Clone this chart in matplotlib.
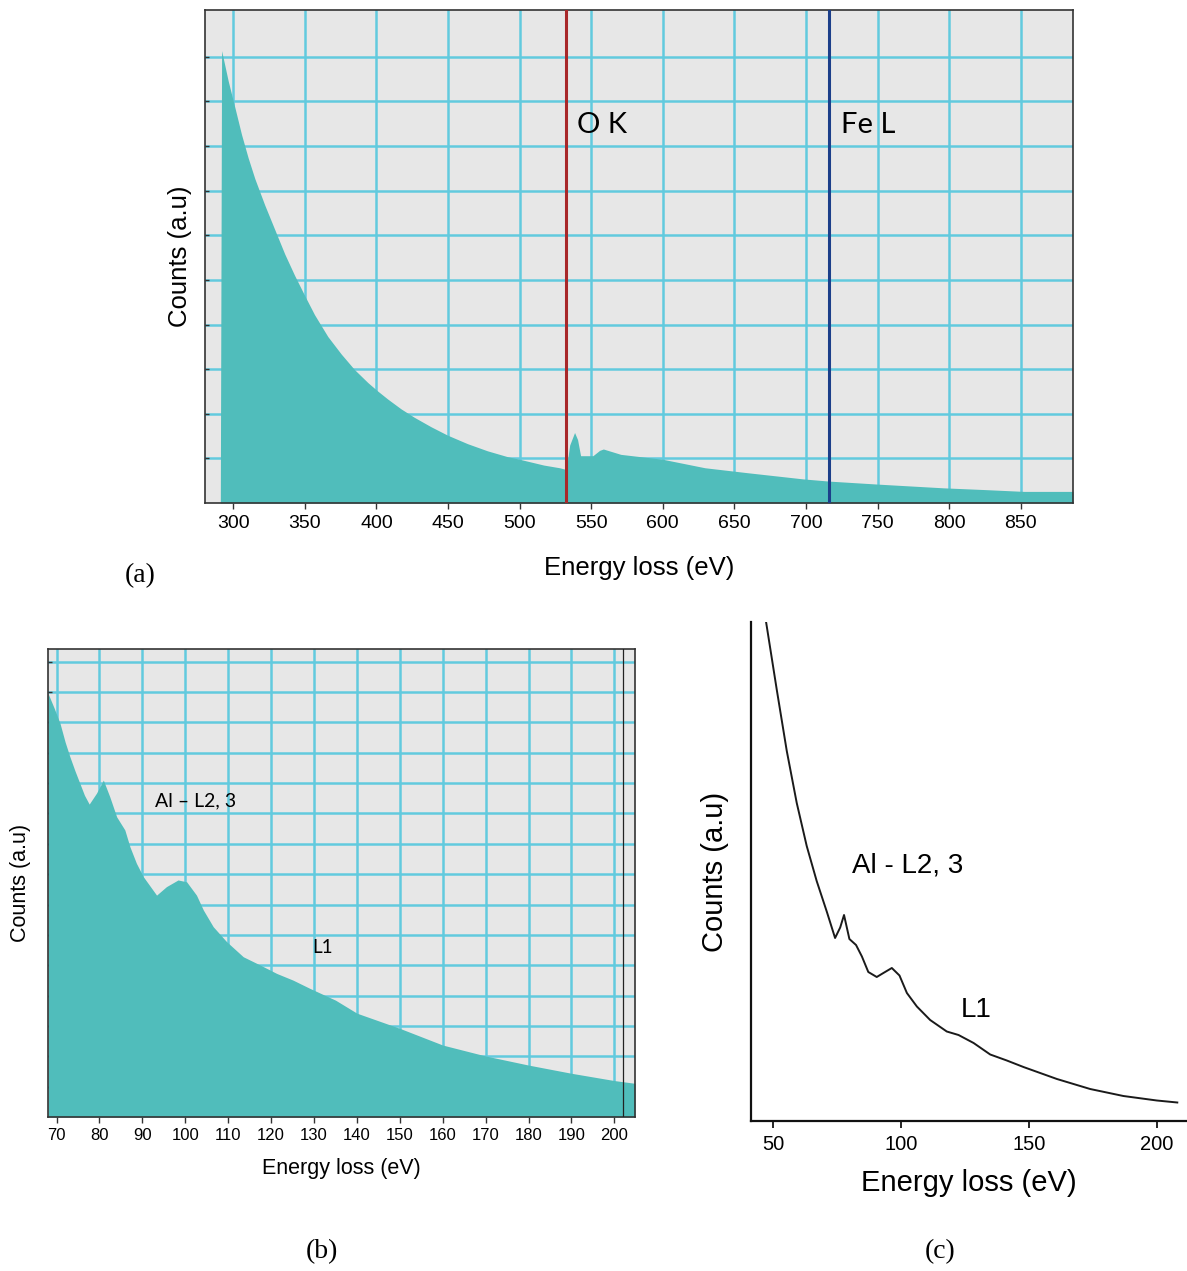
import matplotlib
matplotlib.use("Agg")
import matplotlib.pyplot as plt

W, H = 1187, 1271

# (a) O K / Fe L spectrum
a_energy = [291.0, 291.9, 296.5, 301.2, 305.8, 310.4, 315.1, 322.0, 329.0, 336.0,
            342.9, 349.9, 356.8, 366.1, 375.4, 384.7, 394.0, 400.5, 407.9, 417.2,
            426.5, 438.1, 449.7, 463.6, 477.5, 491.4, 500.0, 516.9, 527.9, 531.5,
            533, 535, 538.4, 540.5, 542.6, 551.2, 555.9, 558.5, 570.7, 600,
            629.4, 658.8, 698, 716.4, 751.9, 795.9, 825.3, 852.2, 886.5]
a_counts = [0.0, 10.14, 9.46, 8.86, 8.26, 7.74, 7.27, 6.68, 6.13, 5.58,
            5.10, 4.65, 4.22, 3.73, 3.34, 2.99, 2.70, 2.52, 2.33, 2.11,
            1.92, 1.71, 1.52, 1.33, 1.17, 1.04, 0.98, 0.85, 0.79, 0.76,
            0.85, 1.30, 1.58, 1.42, 1.06, 1.06, 1.18, 1.21, 1.09, 0.98,
            0.79, 0.68, 0.54, 0.49, 0.42, 0.34, 0.30, 0.26, 0.26]
a_xticks = [300, 350, 400, 450, 500, 550, 600, 650, 700, 750, 800, 850]
a_edges = [532.2, 716.4]
a_edge_names = ["O K", "Fe L"]

# (b) Al L2,3 spectrum, filled
b_energy = [68.0, 69.5, 70.8, 72.0, 73.1, 74.3, 75.4, 76.5, 77.6, 79.3, 80.9,
            82.4, 84.0, 85.9, 87.1, 88.6, 90.2, 93.3, 95.6, 98.3, 100.3,
            102.6, 104.2, 106.5, 109.6, 113.5, 117.4, 121.3, 125.1, 129.0,
            135.0, 140, 150, 160, 170, 180, 190, 200, 204.8]
b_counts = [13.96, 13.45, 12.97, 12.35, 11.87, 11.40, 11.0, 10.60, 10.31, 10.67,
            11.10, 10.55, 9.89, 9.46, 8.90, 8.36, 7.92, 7.31, 7.59, 7.81, 7.75,
            7.31, 6.82, 6.27, 5.78, 5.28, 5.01, 4.73, 4.51, 4.24,
            3.85, 3.42, 2.92, 2.37, 2.01, 1.71, 1.44, 1.20, 1.11]
b_xticks = [70, 80, 90, 100, 110, 120, 130, 140, 150, 160, 170, 180, 190, 200]

# (c) Al L2,3 spectrum, line
c_energy = [47.2, 51.4, 55.3, 59.2, 63.1, 67.0, 71.0, 74.2, 76.2, 77.7, 79.8,
            82.4, 84.7, 87.2, 90.5, 93.1, 96.4, 99.4, 102.3, 106.2, 111.4,
            117.9, 122.5, 128.4, 134.9, 141.4, 147.9, 161.0, 174.0, 187.0,
            200.1, 208.1]
c_counts = [9.98, 8.62, 7.40, 6.36, 5.50, 4.80, 4.18, 3.66, 3.87, 4.12, 3.64,
            3.52, 3.29, 2.98, 2.88, 2.96, 3.06, 2.91, 2.56, 2.29, 2.02,
            1.79, 1.72, 1.56, 1.33, 1.21, 1.08, 0.84, 0.64, 0.50,
            0.41, 0.37]
c_xticks = [50, 100, 150, 200]

FILL = "#50bdbb"
GRID = "#62cade"
BG = "#e7e7e7"
SANS = "Liberation Sans"
LABEL_FONT = "Lato"
SERIF = "Liberation Serif"


def px_axes(fig, left, top, right, bottom):
    return fig.add_axes([left / W, 1 - bottom / H, (right - left) / W, (bottom - top) / H])


def grid_panel(ax, x, y, xticks, ylines, xlim, ylim, tick_size, pad):
    ax.set_facecolor(BG)
    ax.fill_between(x, y, 0, color=FILL, lw=0, zorder=2)
    for xv in xticks:
        ax.axvline(xv, color=GRID, lw=1.8, zorder=1)
    for yv in ylines:
        ax.axhline(yv, color=GRID, lw=1.8, zorder=1)
    ax.set_xlim(*xlim)
    ax.set_ylim(*ylim)
    ax.set_xticks(xticks)
    ax.set_xticklabels([str(t) for t in xticks], fontsize=tick_size, family=SANS)
    ax.set_yticks(ylines)
    ax.set_yticklabels([])
    ax.tick_params(axis="x", direction="out", length=4, width=1, color="#333333", pad=pad)
    ax.tick_params(axis="y", direction="in", length=3, width=1, color="#333333")
    for s in ax.spines.values():
        s.set_color("#333333")
        s.set_linewidth(1.2)


fig = plt.figure(figsize=(W / 100, H / 100), dpi=100)

# panel (a)
ax_a = px_axes(fig, 205, 10, 1073, 503)
grid_panel(ax_a, a_energy, a_counts, a_xticks, list(range(1, 11)),
           (280.3, 886.5), (0, 11.05), 14, 5)
ax_a.axvline(a_edges[0], color="#a8282a", lw=2.2, zorder=3)
ax_a.axvline(a_edges[1], color="#1c3f8a", lw=2.2, zorder=3)
for xv, name in zip(a_edges, a_edge_names):
    ax_a.text(xv + 8, 8.48, name, fontsize=21, family=LABEL_FONT, va="center", ha="left")
ax_a.set_xlabel("Energy loss (eV)", fontsize=18.5, family=SANS, labelpad=17)
ax_a.set_ylabel("Counts (a.u)", fontsize=18.5, family=SANS, labelpad=6)
fig.text(140 / W, 1 - 576 / H, "(a)", fontsize=20, family=SERIF, ha="center", va="center")

# panel (b)
ax_b = px_axes(fig, 48, 649, 635, 1117)
grid_panel(ax_b, b_energy, b_counts, b_xticks, list(range(1, 16)),
           (68.0, 204.8), (0, 15.42), 12, 4)
ax_b.axvline(202.1, color="#222222", lw=0.9, zorder=3)
ax_b.text(93.0, 10.4, "Al \u2013 L2, 3", fontsize=14, family=LABEL_FONT, va="center", ha="left")
ax_b.text(129.5, 5.6, "L1", fontsize=13.5, family=LABEL_FONT, va="center", ha="left")
ax_b.set_xlabel("Energy loss (eV)", fontsize=15.5, family=SANS, labelpad=11)
ax_b.set_ylabel("Counts (a.u)", fontsize=15.5, family=SANS, labelpad=9)
fig.text(322 / W, 1 - 1252 / H, "(b)", fontsize=20, family=SERIF, ha="center", va="center")

# panel (c)
ax_c = px_axes(fig, 751, 622, 1187, 1121)
ax_c.plot(c_energy, c_counts, color="#1a1a1a", lw=1.4)
ax_c.set_xlim(41.3, 211.9)
ax_c.set_ylim(0, 9.98)
ax_c.spines["top"].set_visible(False)
ax_c.spines["right"].set_visible(False)
for s in ("left", "bottom"):
    ax_c.spines[s].set_linewidth(1.6)
    ax_c.spines[s].set_color("#111111")
ax_c.set_yticks([])
ax_c.set_xticks(c_xticks)
ax_c.set_xticklabels([str(t) for t in c_xticks], fontsize=14.5, family=SANS)
ax_c.tick_params(axis="x", direction="out", length=5, width=1.2, pad=5)
ax_c.text(81.0, 5.1, "Al - L2, 3", fontsize=20, family=SANS, va="center", ha="left")
ax_c.text(123.5, 2.22, "L1", fontsize=20, family=SANS, va="center", ha="left")
ax_c.set_xlabel("Energy loss (eV)", fontsize=21, family=SANS, labelpad=11)
ax_c.set_ylabel("Counts (a.u)", fontsize=21, family=SANS, labelpad=16)
fig.text(940 / W, 1 - 1252 / H, "(c)", fontsize=20, family=SERIF, ha="center", va="center")

fig.savefig("out.png", dpi=100)
